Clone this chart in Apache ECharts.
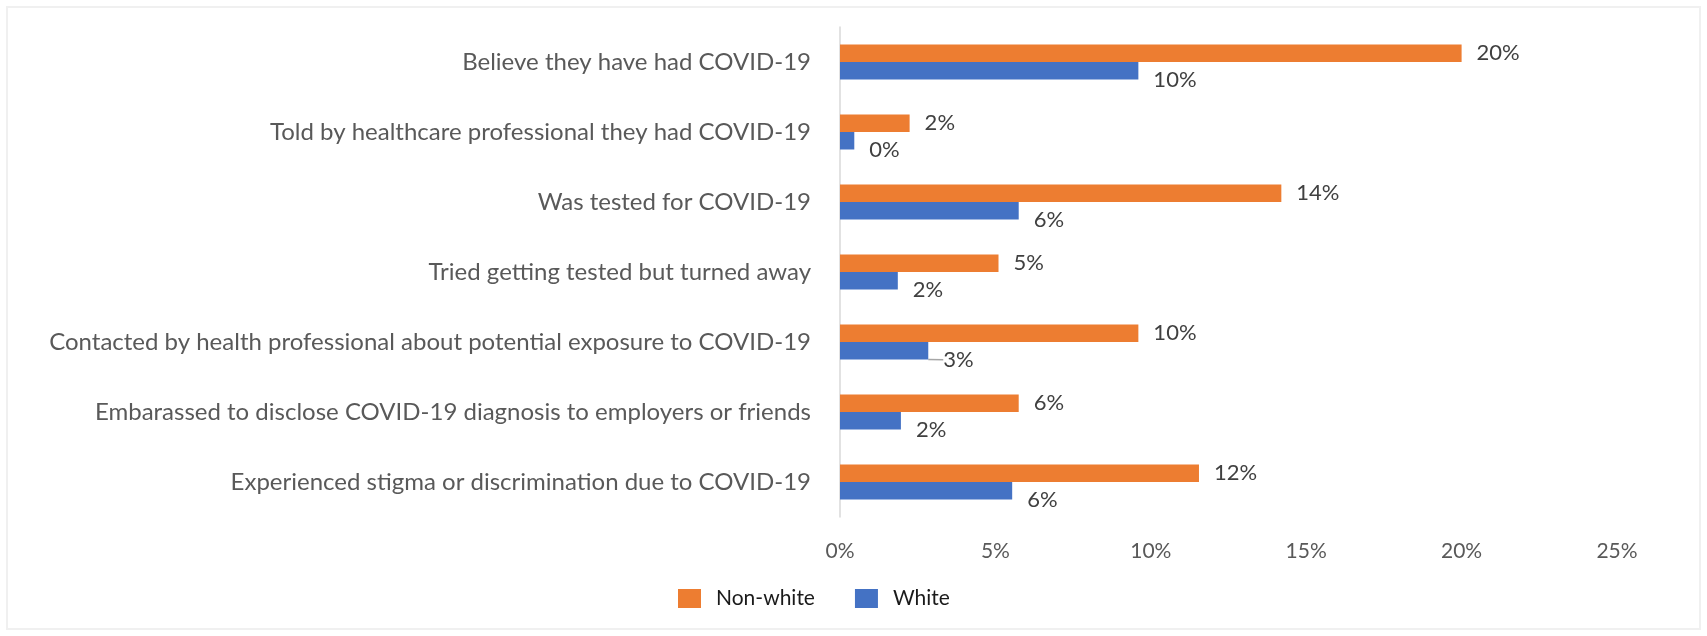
<!DOCTYPE html>
<html>
<head>
<meta charset="utf-8">
<script src="https://cdn.jsdelivr.net/npm/echarts@6/dist/echarts.min.js"></script>
<style>
html,body{margin:0;padding:0;background:#fff;}
#frame{position:absolute;left:6px;top:6px;width:1695px;height:624px;border:2px solid #f0f0f0;box-sizing:border-box;}
#chart{position:absolute;left:0;top:0;width:1707px;height:636px;}
</style>
</head>
<body>
<div id="frame"></div>
<div id="chart"></div>
<script>
const categories = [
  "Believe they have had COVID-19",
  "Told by healthcare professional they had COVID-19",
  "Was tested for COVID-19",
  "Tried getting tested but turned away",
  "Contacted by health professional about potential exposure to COVID-19",
  "Embarassed to disclose COVID-19 diagnosis to employers or friends",
  "Experienced stigma or discrimination due to COVID-19"
];
const nonWhite = [20.0, 2.24, 14.2, 5.1, 9.6, 5.75, 11.55];
const white = [9.6, 0.46, 5.75, 1.86, 2.84, 1.96, 5.54];
const xTicks = [0, 5, 10, 15, 20, 25];

const FONT = 'Lato';
const chart = echarts.init(document.getElementById('chart'));
chart.setOption({
  animation: false,
  grid: {left: 840, right: 90, top: 27, bottom: 119, containLabel: false},
  legend: {
    left: 673, top: 583,
    itemWidth: 23, itemHeight: 19, itemGap: 40,
    icon: 'rect',
    textStyle: {fontFamily: FONT, fontSize: 21, color: '#1a1a1a', padding: [0, 0, 0, 10]},
    data: ['Non-white', 'White']
  },
  xAxis: {
    type: 'value', min: xTicks[0], max: xTicks[xTicks.length - 1], interval: 5,
    axisLine: {show: false}, axisTick: {show: false}, splitLine: {show: false},
    axisLabel: {formatter: '{value}%', fontFamily: FONT, fontSize: 21, color: '#595959', margin: 24}
  },
  yAxis: {
    type: 'category', data: categories, inverse: true,
    axisLine: {show: true, lineStyle: {color: '#d9d9d9', width: 1.5}},
    axisTick: {show: false},
    axisLabel: {fontFamily: FONT, fontSize: 24, color: '#595959', margin: 29}
  },
  series: [
    {
      name: 'Non-white', type: 'bar', data: nonWhite, barWidth: 17.5, barGap: '0%',
      itemStyle: {color: '#ed7d31'},
      label: {show: true, position: 'right', distance: 15, fontFamily: FONT, fontSize: 22, color: '#404040',
        formatter: p => Math.round(p.value) + '%'}
    },
    {
      name: 'White', type: 'bar', barWidth: 17.5, barGap: '0%',
      data: white.map((v, i) => i === 4 ? {value: v, labelLine: {show: true, lineStyle: {color: '#a6a6a6', width: 1.5}}} : v),
      itemStyle: {color: '#4472c4'},
      label: {show: true, position: 'right', distance: 15, fontFamily: FONT, fontSize: 22, color: '#404040',
        formatter: p => Math.round(p.value) + '%'},
      labelLayout: {dy: 9},
      labelLine: {show: false}
    }
  ]
});
</script>
</body>
</html>
